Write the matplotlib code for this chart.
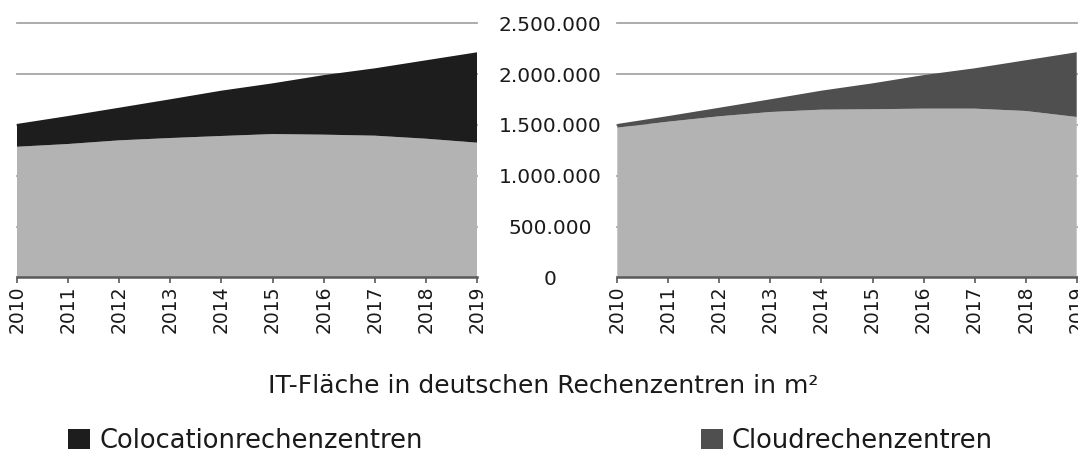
import numpy as np
import matplotlib.pyplot as plt
from matplotlib.patches import Patch
from matplotlib.ticker import FuncFormatter

# IT-Fläche in m²
jahre = [2010, 2011, 2012, 2013, 2014, 2015, 2016, 2017, 2018, 2019]
sonstige_links = [1285000, 1312000, 1348000, 1371000, 1391000, 1410000, 1404000, 1394000, 1364000, 1325000]
colocation = [224000, 275000, 321000, 381000, 446000, 499000, 586000, 663000, 772000, 890000]
sonstige_rechts = [1473000, 1532000, 1585000, 1627000, 1650000, 1654000, 1660000, 1660000, 1637000, 1578000]
cloud = [36000, 55000, 84000, 125000, 187000, 255000, 330000, 397000, 499000, 637000]
y_ticks = [0, 500000, 1000000, 1500000, 2000000, 2500000]

titel = "IT-Fläche in deutschen Rechenzentren in m²"
labels = ["Colocationrechenzentren", "Cloudrechenzentren"]

GRAU = "#b3b3b3"
SCHWARZ = "#1d1d1d"
DUNKEL = "#4f4f4f"
TEXT = "#1a1a1a"

plt.rcParams['font.family'] = ['DejaVu Sans']

W, H = 1078, 454
fig = plt.figure(figsize=(W / 100, H / 100), dpi=100)

bottom = (H - 277.3) / H
height = 254 / H
ax1 = fig.add_axes([16.7 / W, bottom, (477.3 - 16.7) / W, height])
ax2 = fig.add_axes([617.3 / W, bottom, (1076.7 - 617.3) / W, height])


def punkt(v, pos):
    return f"{int(v):,}".replace(",", ".")


for ax, oben, farbe in [(ax1, colocation, SCHWARZ), (ax2, cloud, DUNKEL)]:
    basis = sonstige_links if ax is ax1 else sonstige_rechts
    ax.stackplot(jahre, basis, oben, colors=[GRAU, farbe], linewidth=0, zorder=2)
    ax.set_xlim(jahre[0], jahre[-1])
    ax.set_ylim(0, 2500000)
    ax.set_yticks(y_ticks)
    ax.set_xticks(jahre)
    ax.set_xticklabels([str(j) for j in jahre], rotation=90, fontsize=13.5, color=TEXT)
    ax.grid(axis='y', color="#a6a6a6", linewidth=1.3, zorder=0)
    ax.set_axisbelow(True)
    for gl in ax.get_ygridlines():
        gl.set_clip_on(False)
    for s in ['top', 'left', 'right']:
        ax.spines[s].set_visible(False)
    ax.spines['bottom'].set_color("#595959")
    ax.spines['bottom'].set_linewidth(1.8)
    ax.spines['bottom'].set_zorder(3)
    ax.tick_params(axis='x', length=4, width=1.2, color="#595959", pad=2)
    ax.tick_params(axis='y', length=0)
    ax.patch.set_alpha(0)

ax1.set_yticklabels([])
ax2.yaxis.set_major_formatter(FuncFormatter(punkt))
ax2.tick_params(axis='y', pad=48.5, labelsize=14.5, labelcolor=TEXT)
for t in ax2.get_yticklabels():
    t.set_ha('center')

fig.text(543 / W, (H - 393.3) / H, titel, ha='center', va='baseline', fontsize=18, color=TEXT)

fs = 18.5
for lab, farbe, x0 in [(labels[0], SCHWARZ, 68.3), (labels[1], DUNKEL, 701)]:
    fig.legend(handles=[Patch(facecolor=farbe, edgecolor='none', label=lab)],
               loc='center left', bbox_to_anchor=(x0 / W, (H - 441) / H),
               frameon=False, fontsize=fs, borderpad=0, borderaxespad=0,
               handlelength=0.85, handleheight=0.85, handletextpad=0.35,
               labelcolor=TEXT)

fig.savefig("out.png", dpi=100)
